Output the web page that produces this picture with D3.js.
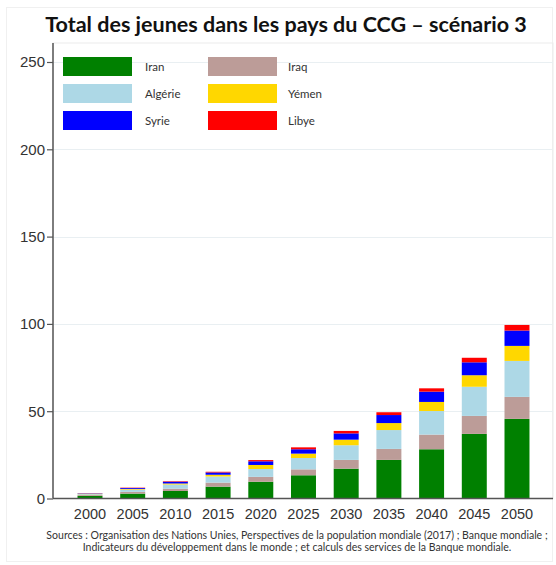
<!DOCTYPE html>
<html><head><meta charset="utf-8">
<script src="https://cdn.jsdelivr.net/npm/d3@7"></script>
<style>html,body{margin:0;padding:0;background:#fff;}</style>
</head><body>
<svg id="chart" width="556" height="565"></svg>
<script>
const years = ["2000","2005","2010","2015","2020","2025","2030","2035","2040","2045","2050"];
const countries = ["Iran","Iraq","Algérie","Yémen","Syrie","Libye"];
const colors = ["#008000","#bc9c98","#add8e6","#ffd700","#0000ff","#ff0000"];
const iran    = [1.5, 2.8, 4.3, 6.8, 9.6, 13.3, 17.1, 22.1, 28.2, 37.0, 45.6];
const iraq    = [0.5, 1.0, 1.3, 2.3, 2.8, 3.4, 5.0, 6.3, 8.4, 10.3, 12.6];
const algerie = [0.5, 1.3, 2.4, 3.5, 4.5, 6.5, 8.4, 10.8, 13.5, 16.7, 20.6];
const yemen   = [0.2, 0.4, 0.6, 1.0, 2.3, 2.5, 3.2, 4.0, 5.2, 6.6, 8.6];
const syrie   = [0.2, 0.5, 1.0, 1.3, 2.1, 2.5, 3.6, 4.6, 5.9, 7.4, 8.8];
const libye   = [0.1, 0.2, 0.3, 0.4, 0.7, 1.1, 1.4, 1.6, 1.9, 2.6, 3.2];
const yTicks = [0, 50, 100, 150, 200, 250];
const title = "Total des jeunes dans les pays du CCG – scénario 3";
const sources = ["Sources : Organisation des Nations Unies, Perspectives de la population mondiale (2017) ; Banque mondiale ;",
                 "Indicateurs du développement dans le monde ; et calculs des services de la Banque mondiale."];

const seriesVals = [iran, iraq, algerie, yemen, syrie, libye];
const rows = years.map((yr,i)=>{ const r={year:yr}; countries.forEach((c,k)=>r[c]=seriesVals[k][i]); return r; });
const stacked = d3.stack().keys(countries)(rows);

const svg = d3.select("#chart");
const pLeft = 53, pRight = 553, pTop = 43, pBottom = 498.5;
const x = d3.scaleBand().domain(years).range([56.15, 550.83]).paddingInner(0.415).paddingOuter(0.5);
const y = d3.scaleLinear().domain([0, 250]).range([pBottom, 62]);

// outer frame
svg.append("rect").attr("x",6.5).attr("y",7.5).attr("width",546).attr("height",554)
  .attr("fill","none").attr("stroke","#f0f0f0");
// plot frame
svg.append("rect").attr("x",pLeft).attr("y",pTop).attr("width",pRight-pLeft).attr("height",pBottom-pTop)
  .attr("fill","none").attr("stroke","#ececec");

// gridlines
svg.append("g").selectAll("line").data(yTicks.filter(t=>t>0)).join("line")
  .attr("x1",pLeft).attr("x2",pRight).attr("y1",d=>Math.round(y(d))+0.5).attr("y2",d=>Math.round(y(d))+0.5)
  .attr("stroke","#e9eff2").attr("stroke-width",1.2);

// bars
const cmap = d3.scaleOrdinal().domain(countries).range(colors);
svg.append("g").selectAll("g").data(stacked).join("g").attr("fill",d=>cmap(d.key))
  .selectAll("rect").data(d=>d).join("rect")
  .attr("x",d=>x(d.data.year)).attr("width",x.bandwidth())
  .attr("y",d=>y(d[1])).attr("height",d=>y(d[0])-y(d[1]));

// y axis
const yAxis = d3.axisLeft(y).tickValues(yTicks).tickSize(6).tickPadding(2);
const gy = svg.append("g").attr("transform",`translate(${pLeft},0)`).call(yAxis);
gy.select(".domain").attr("d",`M0,${pTop}V${pBottom}`).attr("stroke","#555").attr("stroke-width",1.5);
gy.selectAll(".tick line").attr("stroke","#555").attr("stroke-width",1.2);
gy.selectAll(".tick text").attr("font-family","Liberation Sans, Arial, sans-serif").attr("font-size",15).attr("fill","#333");

// x axis
const xAxis = d3.axisBottom(x).tickSize(0).tickPadding(10);
const gx = svg.append("g").attr("transform",`translate(0,${pBottom})`).call(xAxis);
gx.select(".domain").attr("d",`M${pLeft},0H${pRight}`).attr("stroke","#555").attr("stroke-width",1.5);
gx.selectAll(".tick text").attr("font-family","Liberation Sans, Arial, sans-serif").attr("font-size",14.5).attr("fill","#333");

// title
const t = svg.append("text").attr("x",286).attr("y",32).attr("text-anchor","middle")
  .attr("font-family","Lato, sans-serif").attr("font-weight","bold").attr("font-size",21).attr("fill","#111").text(title);
const tw = t.node().getComputedTextLength(); t.attr("font-size", 21*482/tw);

// legend
const legCols = [[63,145],[208,288]];
const legRows = [57,84,111];
const order = ["Iran","Iraq","Algérie","Yémen","Syrie","Libye"];
const lg = svg.append("g");
order.forEach((c,i)=>{
  const col = legCols[i%2], row = legRows[Math.floor(i/2)];
  lg.append("rect").attr("x",col[0]).attr("y",row).attr("width",69).attr("height",19).attr("fill",cmap(c));
  lg.append("text").attr("x",col[1]).attr("y",row+14).attr("font-family","Lato, sans-serif")
    .attr("font-size",11.5).attr("fill","#333").text(c);
});

// sources
const s1 = svg.append("text").attr("x",297).attr("y",538.5).attr("text-anchor","middle")
  .attr("font-family","Lato, sans-serif").attr("font-size",10).attr("fill","#333").text(sources[0]);
const w1 = s1.node().getComputedTextLength(); const fs = 10*502/w1; s1.attr("font-size",fs);
svg.append("text").attr("x",297).attr("y",550.5).attr("text-anchor","middle")
  .attr("font-family","Lato, sans-serif").attr("font-size",fs).attr("fill","#333").text(sources[1]);
</script>
</body></html>
